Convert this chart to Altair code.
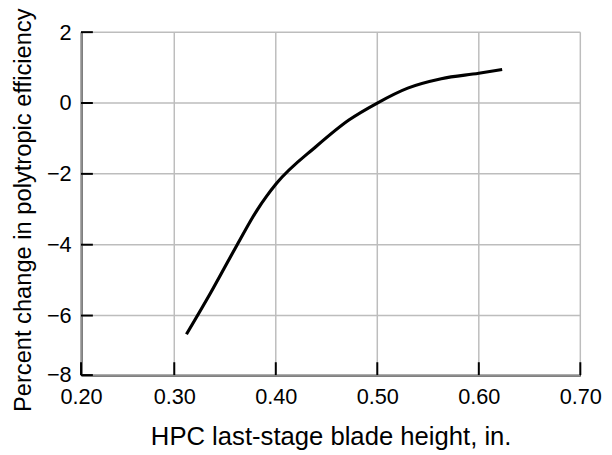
import altair as alt
import pandas as pd

# Curve
blade_height = [0.312, 0.336, 0.362, 0.381, 0.391, 0.401, 0.440, 0.472, 0.500, 0.530, 0.563, 0.600, 0.623]
pct_change = [-6.63, -5.35, -4.00, -3.05, -2.63, -2.26, -1.22, -0.48, 0.0, 0.42, 0.685, 0.84, 0.947]

x_ticks = [0.2, 0.3, 0.4, 0.5, 0.6, 0.7]
y_ticks = [-8, -6, -4, -2, 0, 2]

X_TITLE = "HPC last-stage blade height, in."
Y_TITLE = "Percent change in polytropic efficiency"

W, H = 506, 347.5
FONT = "Liberation Sans"
GRID = "#bdbdbd"

curve = pd.DataFrame({"x": blade_height, "y": pct_change})
xt = pd.DataFrame({"x": x_ticks})
yt = pd.DataFrame({"y": y_ticks})

xscale = alt.Scale(domain=[0.2, 0.3, 0.7], range=[0, 94.5, W])
yscale = alt.Scale(domain=[-8, -6, 2], range=[H, 287.2, 0])

common = dict(grid=False, domainColor="black", domainWidth=2, ticks=False, tickSize=0,
              labelFontSize=22, labelFlush=False,
              labelFont=FONT, titleFont=FONT, labelColor="black", titleColor="black",
              titleFontWeight="normal")

x_axis = alt.Axis(values=x_ticks, format=".2f", title=X_TITLE, labelPadding=12, titlePadding=16,
                  titleFontSize=26, **common)
y_axis = alt.Axis(values=y_ticks, format="d", title=Y_TITLE, labelPadding=10, titlePadding=11,
                  titleFontSize=24, titleY=180, **common)

# grid lines
ygrid = alt.Chart(yt).mark_rule(color=GRID, strokeWidth=1.5).encode(
    y=alt.Y("y:Q", scale=yscale, axis=y_axis),
    x=alt.value(0),
    x2=alt.value(W),
)
xgrid = alt.Chart(xt).mark_rule(color=GRID, strokeWidth=1.5).encode(
    x=alt.X("x:Q", scale=xscale, axis=x_axis),
    y=alt.value(0),
    y2=alt.value(H),
)

# inward ticks (short bars)
ytick_layer = alt.Chart(yt).mark_tick(color="black", thickness=2, size=12, orient="horizontal", opacity=1).encode(
    y=alt.Y("y:Q", scale=yscale, axis=y_axis),
    x=alt.value(6),
)
xtick_layer = alt.Chart(xt).mark_tick(color="black", thickness=2, size=13, orient="vertical", opacity=1).encode(
    x=alt.X("x:Q", scale=xscale, axis=x_axis),
    y=alt.value(H - 6.5),
)

line = alt.Chart(curve).mark_line(color="black", strokeWidth=3.2, interpolate="monotone").encode(
    x=alt.X("x:Q", scale=xscale, axis=x_axis),
    y=alt.Y("y:Q", scale=yscale, axis=y_axis),
)

chart = alt.layer(ygrid, xgrid, ytick_layer, xtick_layer, line).properties(
    width=W, height=H,
    autosize=alt.AutoSizeParams(type="none"),
    padding={"left": 74, "top": 21.5, "right": 24, "bottom": 76},
).configure_view(stroke=None)

chart.save("out.html", embed_options={"renderer": "svg", "actions": False})
